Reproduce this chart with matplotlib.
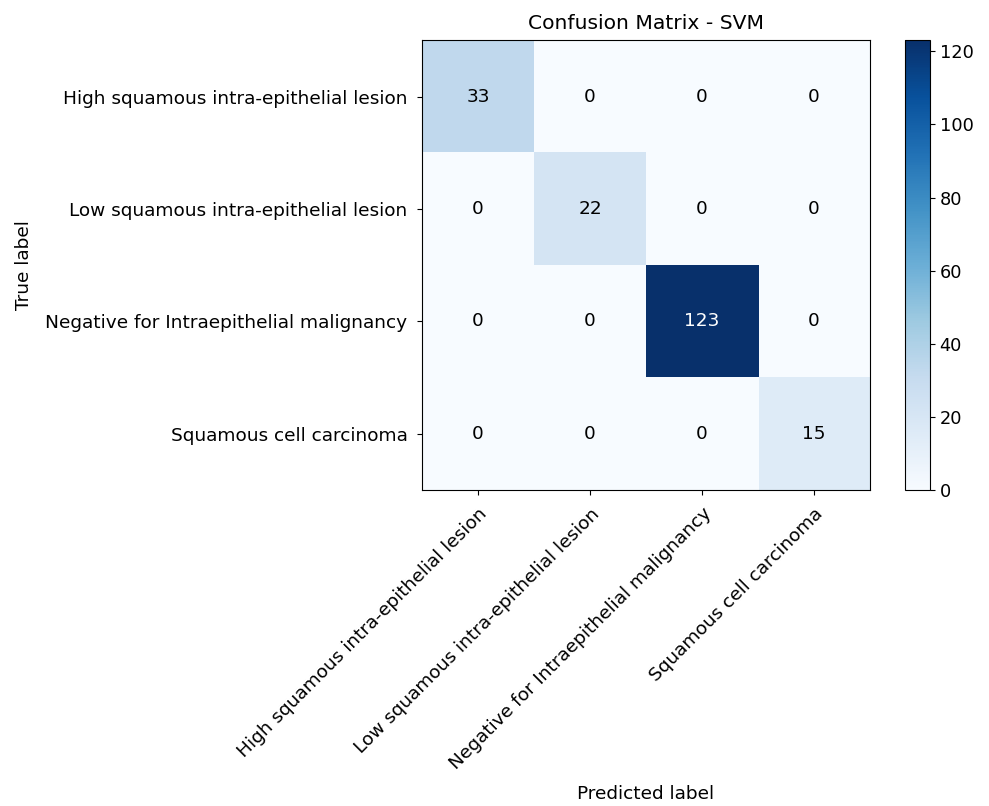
import numpy as np
import matplotlib
matplotlib.use('Agg')
from matplotlib import pyplot as plt

classes = ['High squamous intra-epithelial lesion',
           'Low squamous intra-epithelial lesion',
           'Negative for Intraepithelial malignancy',
           'Squamous cell carcinoma']
row_high = [33, 0, 0, 0]
row_low = [0, 22, 0, 0]
row_neg = [0, 0, 123, 0]
row_scc = [0, 0, 0, 15]

cm = np.array([row_high, row_low, row_neg, row_scc])

fig = plt.figure(figsize=(9.89, 8.06), dpi=100)
ax = fig.add_axes([0.4267, 0.392, 0.453, 0.558])
cax = fig.add_axes([0.915, 0.392, 0.0253, 0.558])

fs = 13.3
im = ax.imshow(cm, interpolation='nearest', cmap=plt.cm.Blues, aspect='auto')
cb = fig.colorbar(im, cax=cax)
cb.ax.tick_params(labelsize=12.8)

ax.set_title('Confusion Matrix - SVM', fontsize=14.6, pad=8)
ticks = np.arange(len(classes))
ax.set_xticks(ticks)
ax.set_xticklabels(classes, rotation=45, ha='right', rotation_mode='anchor', fontsize=fs)
ax.set_yticks(ticks)
ax.set_yticklabels(classes, fontsize=fs)
ax.tick_params(axis='both', pad=7)

thresh = cm.max() / 2.
for i in range(cm.shape[0]):
    for j in range(cm.shape[1]):
        ax.text(j, i, format(cm[i, j], 'd'), ha='center', va='center', fontsize=fs,
                color='white' if cm[i, j] > thresh else 'black')

ax.set_ylabel('True label', fontsize=fs, labelpad=9)
ax.set_xlabel('Predicted label', fontsize=fs, labelpad=8)

fig.savefig('out.png', dpi=100)
